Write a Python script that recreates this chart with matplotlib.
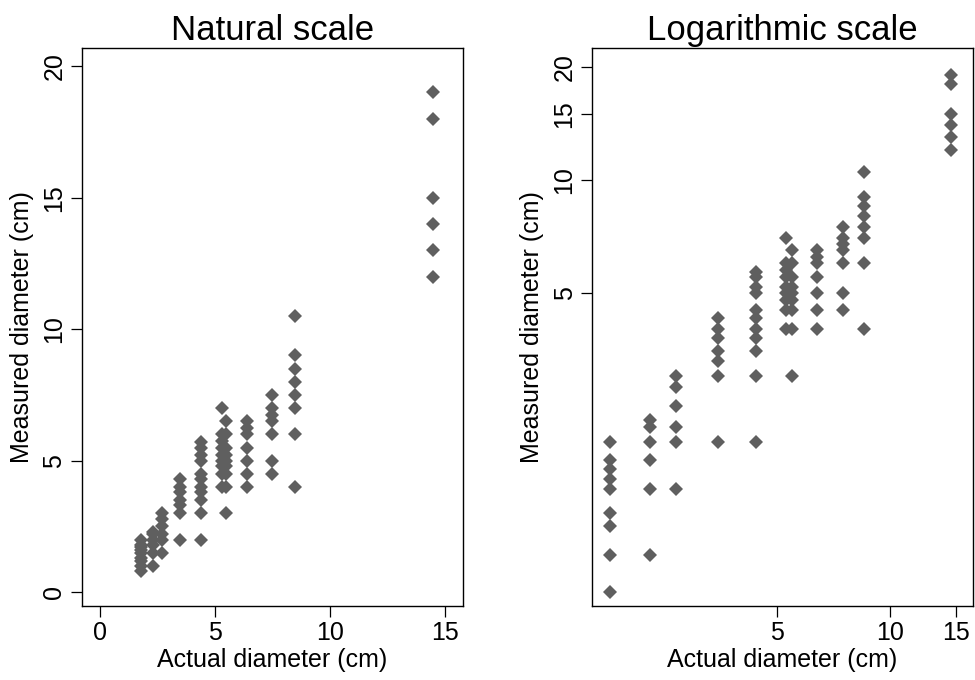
import matplotlib
matplotlib.use("Agg")
import matplotlib.pyplot as plt
import numpy as np

# actual diameter (cm) -> measured diameters (cm)
actual_groups = [1.8, 2.3, 2.7, 3.5, 4.4, 5.3, 5.5, 6.4, 7.5, 8.5, 14.5]
measured_groups = [
    [2.0, 1.8, 1.7, 1.6, 1.5, 1.3, 1.2, 1.0, 0.8],
    [2.3, 2.2, 2.0, 1.8, 1.5, 1.0],
    [3.0, 2.8, 2.5, 2.2, 2.0, 1.5],
    [4.3, 4.0, 3.8, 3.5, 3.3, 3.0, 2.0],
    [5.7, 5.5, 5.2, 5.0, 4.5, 4.3, 4.0, 3.8, 3.5, 3.0, 2.0],
    [7.0, 6.0, 5.75, 5.5, 5.2, 5.0, 4.8, 4.5, 4.0],
    [6.5, 6.0, 5.5, 5.2, 5.0, 4.8, 4.5, 4.0, 3.0],
    [6.5, 6.25, 6.0, 5.5, 5.0, 4.5, 4.0],
    [7.5, 7.0, 6.75, 6.5, 6.0, 5.0, 4.5],
    [10.5, 9.0, 8.5, 8.0, 7.5, 7.0, 6.0, 4.0],
    [19.0, 18.0, 15.0, 14.0, 13.0, 12.0],
]

actual = np.concatenate([[a] * len(m) for a, m in zip(actual_groups, measured_groups)])
measured = np.concatenate(measured_groups)

plt.rcParams["font.family"] = ["Liberation Sans", "DejaVu Sans"]

MARKER_COLOR = "#5f5f5f"


def style_axes(ax):
    for sp in ax.spines.values():
        sp.set_linewidth(1.0)
        sp.set_color("black")
    ax.tick_params(axis="both", which="major", direction="out", length=8,
                   width=0.9, labelsize=18, pad=3)
    ax.tick_params(axis="both", which="minor", length=0)
    for lab in ax.get_yticklabels():
        lab.set_rotation(90)
        lab.set_va("center")


fig = plt.figure(figsize=(9.75, 6.8), dpi=100)
ax1 = fig.add_axes([0.0838, 0.109, 0.391, 0.820])
ax2 = fig.add_axes([0.607, 0.109, 0.391, 0.820])

# natural scale
ax1.plot(actual, measured, linestyle="none", marker="D", ms=7.1,
         mew=0, color=MARKER_COLOR)
ax1.set_xlim(-0.8, 15.8)
ax1.set_ylim(-0.52, 20.68)
ax1.set_xticks([0, 5, 10, 15])
ax1.set_yticks([0, 5, 10, 15, 20])
ax1.set_title("Natural scale", fontsize=25, pad=6)
ax1.set_xlabel("Actual diameter (cm)", fontsize=18, labelpad=2)
ax1.set_ylabel("Measured diameter (cm)", fontsize=18, labelpad=6)
style_axes(ax1)

# logarithmic scale
ax2.plot(actual, measured, linestyle="none", marker="D", ms=7.1,
         mew=0, color=MARKER_COLOR)
ax2.set_xscale("log")
ax2.set_yscale("log")
ax2.set_xlim(1.615, 16.6)
ax2.set_ylim(0.734, 22.4)
ax2.set_xticks([5, 10, 15])
ax2.set_xticklabels(["5", "10", "15"])
ax2.set_yticks([5, 10, 15, 20])
ax2.set_yticklabels(["5", "10", "15", "20"])
ax2.minorticks_off()
ax2.set_title("Logarithmic scale", fontsize=25, pad=6)
ax2.set_xlabel("Actual diameter (cm)", fontsize=18, labelpad=2)
ax2.set_ylabel("Measured diameter (cm)", fontsize=18, labelpad=6)
style_axes(ax2)

fig.savefig("out.png", dpi=100)
